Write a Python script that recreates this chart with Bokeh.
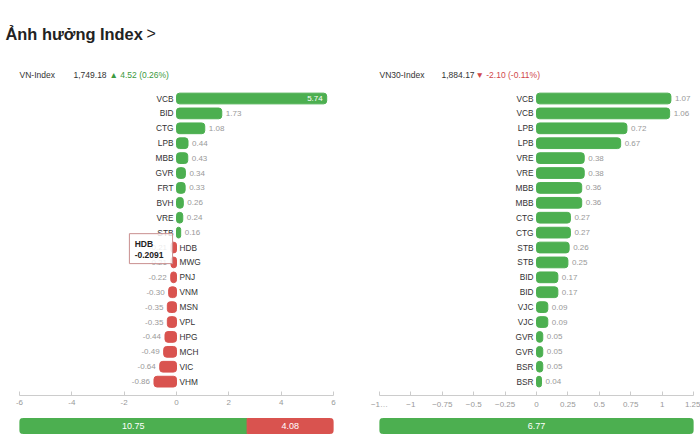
from bokeh.plotting import figure
from bokeh.layouts import column, row
from bokeh.models import Range1d, FixedTicker, ColumnDataSource
from bokeh.embed import file_html
from bokeh.resources import INLINE
from bokeh.core.properties import value

# ---------------- data ----------------
title_text = "Ảnh hưởng Index"
left_index_name = "VN-Index"
left_index_level = "1,749.18"
left_index_change = "▲ 4.52 (0.26%)"
right_index_name = "VN30-Index"
right_index_level = "1,884.17"
right_index_change = "▼ -2.10 (-0.11%)"

left_tickers = ["VCB", "BID", "CTG", "LPB", "MBB", "GVR", "FRT", "BVH", "VRE", "STB",
                "HDB", "MWG", "PNJ", "VNM", "MSN", "VPL", "HPG", "MCH", "VIC", "VHM"]
left_values = [5.74, 1.73, 1.08, 0.44, 0.43, 0.34, 0.33, 0.26, 0.24, 0.16,
               -0.2091, -0.21, -0.22, -0.30, -0.35, -0.35, -0.44, -0.49, -0.64, -0.86]

right_tickers = ["VCB", "VCB", "LPB", "LPB", "VRE", "VRE", "MBB", "MBB", "CTG", "CTG",
                 "STB", "STB", "BID", "BID", "VJC", "VJC", "GVR", "GVR", "BSR", "BSR"]
right_values = [1.07, 1.06, 0.72, 0.67, 0.38, 0.38, 0.36, 0.36, 0.27, 0.27,
                0.26, 0.25, 0.17, 0.17, 0.09, 0.09, 0.05, 0.05, 0.05, 0.04]

left_ticks = [-6, -4, -2, 0, 2, 4, 6]
left_tick_labels = ["-6", "-4", "-2", "0", "2", "4", "6"]
right_ticks = [-1.25, -1, -0.75, -0.5, -0.25, 0, 0.25, 0.5, 0.75, 1, 1.25]
right_tick_labels = ["−1…", "−1", "−0.75", "−0.5", "−0.25", "0", "0.25", "0.5", "0.75", "1", "1.25"]

left_totals = [10.75, 4.08]
right_totals = [6.77]

tooltip_ticker = "HDB"

# ---------------- style ----------------
GREEN = "#4caf50"
RED = "#d9534f"
FONT = "Liberation Sans"
W = 700


def base_fig(width, height, xr, yr, bl, br, bt, bb):
    p = figure(width=width, height=height, x_range=xr, y_range=yr,
               output_backend="svg", toolbar_location=None,
               min_border_left=bl, min_border_right=br,
               min_border_top=bt, min_border_bottom=bb,
               x_axis_location=None, y_axis_location=None)
    p.outline_line_color = None
    p.xgrid.visible = False
    p.ygrid.visible = False
    p.background_fill_color = "white"
    p.border_fill_color = "white"
    return p


def make_panel(tickers, values, ticks, tick_labels, bl, br, tooltip=None):
    n = len(values)
    xmin, xmax = ticks[0], ticks[-1]
    p = figure(width=350, height=328,
               x_range=Range1d(xmin, xmax), y_range=Range1d(n - 0.07, -0.94),
               output_backend="svg", toolbar_location=None,
               min_border_left=bl, min_border_right=br,
               min_border_top=0, min_border_bottom=17,
               y_axis_location=None)
    p.outline_line_color = None
    p.xgrid.visible = False
    p.ygrid.visible = False

    ax = p.xaxis[0]
    ax.ticker = FixedTicker(ticks=ticks, minor_ticks=[])
    ax.major_label_overrides = {t: l for t, l in zip(ticks, tick_labels)}
    ax.axis_line_color = "#cccccc"
    ax.major_tick_line_color = "#cccccc"
    ax.major_tick_in = 4
    ax.major_tick_out = 0
    ax.minor_tick_line_color = None
    ax.major_label_text_font = FONT
    ax.major_label_text_font_size = "8px"
    ax.major_label_text_color = "#999999"
    ax.major_label_standoff = 4

    idx = list(range(n))
    colors = [GREEN if v >= 0 else RED for v in values]
    src = ColumnDataSource(dict(y=idx, v=values, c=colors))
    p.hbar(y="y", left=0, right="v", height=0.72, color="c", source=src,
           border_radius=3)

    pos = [i for i in idx if values[i] >= 0]
    neg = [i for i in idx if values[i] < 0]
    inside = [i for i in pos if values[i] / xmax > 0.9]
    outside = [i for i in pos if i not in inside]

    def sub(ids):
        return ColumnDataSource(dict(y=[idx[i] for i in ids],
                                     v=[values[i] for i in ids],
                                     t=[tickers[i] for i in ids],
                                     lab=[f"{values[i]:.2f}" for i in ids]))

    common = dict(text_font=value(FONT), text_baseline="middle")
    # ticker names
    p.text(x=0, y="y", text="t", source=sub(pos), x_offset=-3, text_align="right",
           text_font_size="8.3px", text_color="#333333", **common)
    p.text(x=0, y="y", text="t", source=sub(neg), x_offset=3, text_align="left",
           text_font_size="8.3px", text_color="#333333", **common)
    # value labels
    p.text(x="v", y="y", text="lab", source=sub(outside), x_offset=4, text_align="left",
           text_font_size="8px", text_color="#999999", **common)
    p.text(x="v", y="y", text="lab", source=sub(inside), x_offset=-4, text_align="right",
           text_font_size="8px", text_color="white", **common)
    p.text(x="v", y="y", text="lab", source=sub(neg), x_offset=-4, text_align="right",
           text_font_size="8px", text_color="#999999", **common)

    if tooltip is not None:
        k = tickers.index(tooltip)
        p.quad(left=[-1.8], right=[-0.15], top=[k - 0.93], bottom=[k + 1.08],
               fill_color="white", fill_alpha=0.82,
               line_color="#c98f8f", line_width=1)
        p.text(x=[-1.6, -1.6], y=[k - 0.22, k + 0.5],
               text=[tickers[k], f"{values[k]:.4f}"],
               text_font=value(FONT), text_font_size="8.5px", text_font_style="bold",
               text_color="#222222", text_baseline="alphabetic", text_align="left")
    return p


def make_summary(vals, colors, bl, br):
    total = sum(vals)
    p = base_fig(350, 23, Range1d(0, total), Range1d(-0.633, 0.9), bl, br, 0, 0)
    lefts, rights = [], []
    acc = 0
    for v in vals:
        lefts.append(acc)
        acc += v
        rights.append(acc)
    for i, (l, r, c) in enumerate(zip(lefts, rights, colors)):
        first, last = i == 0, i == len(vals) - 1
        rad = (3 if first else 0, 3 if last else 0, 3 if last else 0, 3 if first else 0)
        p.hbar(y=[0], left=[l], right=[r], height=1, color=c, border_radius=rad)
    p.text(x=[(l + r) / 2 for l, r in zip(lefts, rights)], y=[0] * len(vals),
           text=[f"{v:.2f}" for v in vals], text_font=value(FONT), text_font_size="9px",
           text_color="white", text_align="center", text_baseline="middle")
    return p


# ---------------- header ----------------
h = base_fig(W, 84, Range1d(0, W), Range1d(84, 0), 0, 0, 0, 0)
h.text(x=[5], y=[33], text=[title_text], text_font=value(FONT), text_font_size="16.4px",
       text_font_style="bold", text_color="#222222", text_baseline="alphabetic")
h.text(x=[146], y=[33], text=[">"], text_font=value(FONT), text_font_size="16px",
       text_color="#222222", text_baseline="alphabetic")
hdr = dict(text_font=value(FONT), text_font_size="8.5px", text_baseline="middle")
h.text(x=[19], y=[74], text=[left_index_name], text_color="#333333", **hdr)
h.text(x=[73], y=[74], text=[left_index_level], text_color="#333333", **hdr)
h.text(x=[109], y=[74], text=[left_index_change], text_color="#3c9a40", **hdr)
h.text(x=[379], y=[74], text=[right_index_name], text_color="#333333", **hdr)
h.text(x=[441], y=[74], text=[right_index_level], text_color="#333333", **hdr)
h.text(x=[475], y=[74], text=[right_index_change], text_color="#d0474a", **hdr)

left = make_panel(left_tickers, left_values, left_ticks, left_tick_labels, 19, 17,
                  tooltip=tooltip_ticker)
right = make_panel(right_tickers, right_values, right_ticks, right_tick_labels, 29, 7)

sum_l = make_summary(left_totals, [GREEN, RED], 19, 17)
sum_r = make_summary(right_totals, [GREEN], 29, 7)

layout = column(h, row(left, right), row(sum_l, sum_r))

open("out.html", "w").write(file_html(layout, INLINE))
